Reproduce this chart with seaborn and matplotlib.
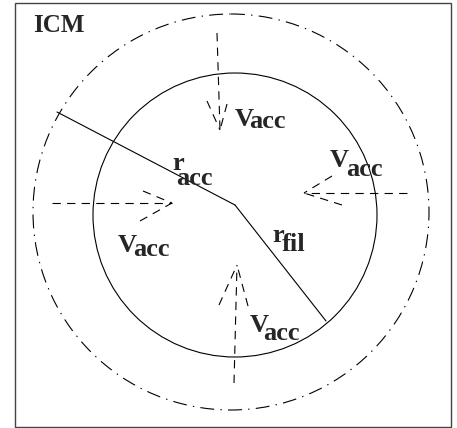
import numpy as np
import pandas as pd
import matplotlib.pyplot as plt
from matplotlib.patches import Circle, Rectangle
import seaborn as sns

# diagram geometry, in picture pixels (y grows downward)
inner_circle = (235, 215, 142)     # x, y, radius  (filament, solid)
outer_circle = (231, 212, 198)     # x, y, radius  (accretion, dash-dot)
centre = (235, 205)
r_acc_end = (57, 112)
r_fil_end = (326, 321)

# arrows: tail, tip, wing 1, wing 2
arrow_tails = [(217, 33), (407, 193), (52, 203), (234, 383)]
arrow_tips = [(220, 130), (304, 193), (172, 203), (237, 265)]
arrow_wing_a = [(207, 101), (332, 176), (143, 191), (219, 305)]
arrow_wing_b = [(227, 104), (342, 205), (140, 221), (248, 306)]

# labels: main letter, subscript, positions of each
label_main = ["V", "V", "V", "V", "r", "r"]
label_sub = ["acc", "acc", "acc", "acc", "acc", "fil"]
main_xy = [(235, 126), (330, 167), (118, 252), (250, 332), (172, 170), (272, 242)]
sub_xy = [(249, 128), (346, 176), (133, 256), (263, 340), (176, 185), (282, 251)]

sns.set_theme(style="white")
plt.rcParams["font.family"] = ["Liberation Serif", "DejaVu Serif"]
plt.rcParams["lines.scale_dashes"] = False

fig = plt.figure(figsize=(4.57, 4.28), dpi=100)
ax = fig.add_axes([0, 0, 1, 1])

ax.add_patch(Rectangle((15, 3), 436, 424, fill=False, edgecolor="#444444", lw=1.0))
ax.add_patch(Circle(inner_circle[:2], inner_circle[2], fill=False, edgecolor="black", lw=0.8))
ax.add_patch(Circle(outer_circle[:2], outer_circle[2], fill=False, edgecolor="black",
                    lw=0.8, linestyle=(0, (10, 4.5, 1, 4.5))))


def seg(p, q, **kw):
    df = pd.DataFrame({"x": [p[0], q[0]], "y": [p[1], q[1]]})
    sns.lineplot(data=df, x="x", y="y", sort=False, estimator=None, ax=ax,
                 color="black", **kw)


seg(r_acc_end, centre, lw=0.8)
seg(centre, r_fil_end, lw=0.8)

dash = (0, (6, 4.5))
for tail, tip, wa, wb in zip(arrow_tails, arrow_tips, arrow_wing_a, arrow_wing_b):
    seg(tail, tip, lw=0.8, linestyle=dash)
    seg(wa, tip, lw=0.8, linestyle=dash)
    seg(wb, tip, lw=0.8, linestyle=dash)

ax.set_xlim(0, 457)
ax.set_ylim(428, 0)
ax.set_axis_off()

ax.text(33, 32, "ICM", fontsize=18, fontweight="bold", ha="left", va="baseline")
for m, s, mxy, sxy in zip(label_main, label_sub, main_xy, sub_xy):
    ax.text(mxy[0], mxy[1], m, fontsize=19, fontweight="bold", ha="left", va="baseline")
    ax.text(sxy[0], sxy[1], s, fontsize=19, fontweight="bold", ha="left", va="baseline")

fig.savefig("out.png", dpi=100)
